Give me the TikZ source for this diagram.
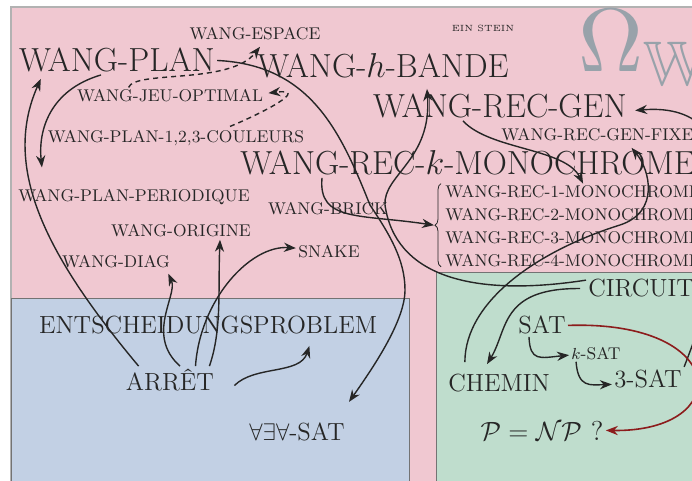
\documentclass[tikz,border=0pt]{standalone}
\usepackage{amssymb}
\usepackage{graphicx}
\usetikzlibrary{positioning, arrows.meta, decorations.pathreplacing}

\definecolor{pinkzone}{RGB}{240,200,209}
\definecolor{bluezone}{RGB}{194,208,228}
\definecolor{greenzone}{RGB}{191,221,205}
\definecolor{ink}{RGB}{38,38,38}
\definecolor{omegagray}{RGB}{152,162,170}
\definecolor{darkred}{RGB}{140,28,28}

\begin{document}
\begin{tikzpicture}[
        x=0.5pt, y=-0.5pt,
        word/.style={inner sep=1pt, anchor=base, text=ink},
        bigword/.style={word, font=\fontsize{16.7}{19}\selectfont},
        midword/.style={word, font=\fontsize{12.4}{14}\selectfont},
        smallword/.style={word, font=\fontsize{8.5}{10}\selectfont},
        tinyword/.style={word, font=\fontsize{4.5}{5.5}\selectfont},
        monorow/.style={smallword, text height=6pt, text depth=1pt},
        arrow/.style={-{Stealth[length=6pt, width=4.6pt]}, line width=0.7pt, draw=ink},
        dasharrow/.style={arrow, dash pattern=on 2.5pt off 2pt},
        redarrow/.style={arrow, draw=darkred, line width=0.8pt},
        zone/.style={draw=black!55, line width=0.5pt}
    ]
    \useasboundingbox (0,0) rectangle (692,481);
    \clip (0,0) rectangle (692,481);
    \filldraw[zone, fill=pinkzone, draw=black!30, line width=0.8pt] (11,7) rectangle (720,500);
    \filldraw[zone, fill=bluezone] (11,299) rectangle (409,500);
    \filldraw[zone, fill=greenzone] (436,273) rectangle (720,500);

    \node[smallword] (wespace) at (255,40) {WANG-ESPACE};
    \node[bigword] (wplan) at (117,72) {WANG-PLAN};
    \node[bigword] (wband) at (383,78) {WANG-$h$-BANDE};
    \node[tinyword] (stein) at (483,32) {EIN STEIN};
    \node[anchor=base west, inner sep=0pt, text=omegagray] (omega) at (578,72) {\scalebox{4.5}{$\Omega_{\mathbb{W}}$}};
    \node[smallword] (wjeu) at (170,102) {WANG-JEU-OPTIMAL};
    \node[bigword] (wrecgen) at (500,118) {WANG-REC-GEN};
    \node[smallword] (wcoul) at (176,143) {WANG-PLAN-1,2,3-COULEURS};
    \node[smallword, anchor=base west] (wfixe) at (499,141) {WANG-REC-GEN-FIXE};
    \node[bigword, anchor=base west] (wreck) at (238,175) {WANG-REC-$k$-MONOCHROME};
    \node[smallword] (wper) at (134,202) {WANG-PLAN-PERIODIQUE};
    \node[smallword] (wbrick) at (328,215) {WANG-BRICK};
    \node[monorow, anchor=base west] (mono1) at (443,198) {WANG-REC-1-MONOCHROME};
    \node[monorow, below=2pt of mono1] (mono2) {WANG-REC-2-MONOCHROME};
    \node[monorow, below=2pt of mono2] (mono3) {WANG-REC-3-MONOCHROME};
    \node[monorow, below=2pt of mono3] (mono4) {WANG-REC-4-MONOCHROME};
    \node[smallword] (worig) at (181,237) {WANG-ORIGINE};
    \node[smallword] (snake) at (329,257) {SNAKE};
    \node[smallword] (wdiag) at (116,268) {WANG-DIAG};
    \node[midword] (entsch) at (208,334) {ENTSCHEIDUNGSPROBLEM};
    \node[midword] (arret) at (170,390) {ARRÊT};
    \node[midword] (aea) at (297,440) {$\forall\exists\forall$-SAT};
    \node[midword, anchor=base west] (circuit) at (586,297) {CIRCUIT};
    \node[midword] (sat) at (542,334) {SAT};
    \node[smallword] (ksat) at (596,359) {$k$-SAT};
    \node[midword] (chemin) at (499,392) {CHEMIN};
    \node[midword] (tsat) at (648,387) {3-SAT};
    \node[midword] (pnp) at (542,440) {\scalebox{1.1}{$\mathcal{P} = \mathcal{NP}$ ?}};

    \draw[line width=0.4pt, draw=ink, decorate, decoration={brace, amplitude=3pt}]
        ([shift={(-1pt,2pt)}]mono4.south west) -- ([xshift=-1pt]mono1.north west)
        node[coordinate, midway, xshift=-3.5pt] (bracetip) {};

    \draw[arrow] ([xshift=7.5pt]arret.north west) .. controls (50,260) and (0,170) .. ([xshift=12pt, yshift=-2pt]wplan.south west);
    \draw[arrow] ([xshift=-8pt]wplan.south) .. controls (50,90) and (38,130) .. ([xshift=13pt, yshift=10pt]wper.north west);
    \draw[arrow] (wplan.east) .. controls (310,65) and (340,130) .. (370,205) .. controls (390,235) and (405,260) .. (405,290) .. controls (405,320) and (375,365) .. ([xshift=26pt, yshift=9pt]aea.north);
    \draw[dasharrow] ([xshift=27pt]wjeu.north west) .. controls (135,70) and (230,85) .. ([xshift=2.5pt, yshift=-2pt]wespace.south);
    \draw[dasharrow] ([xshift=27pt, yshift=1pt]wcoul.north) .. controls (265,112) and (310,88) .. ([xshift=1.5pt, yshift=1.5pt]wjeu.east);
    \draw[arrow] ([xshift=-18.5pt]wrecgen.south) .. controls (490,150) and (565,148) .. ([xshift=5pt]mono1.north);
    \draw[arrow] ([xshift=42pt]wreck.south west) .. controls (318,222) and (360,214) .. (bracetip);
    \draw[arrow] ([yshift=-1.5pt]circuit.north west) .. controls (470,298) and (395,275) .. (385,205) .. controls (383,175) and (432,160) .. ([xshift=22pt, yshift=-4pt]wband.south);
    \draw[arrow] ([xshift=-3pt]circuit.west) .. controls (500,288) and (508,330) .. ([xshift=-6pt, yshift=4pt]chemin.north);
    \draw[arrow] ([xshift=9.5pt, yshift=5pt]chemin.north west) .. controls (465,300) and (540,250) .. (620,225) .. controls (660,212) and (650,170) .. ([xshift=17pt, yshift=-2pt]wfixe.south);
    \draw[arrow] ([xshift=-6.5pt]sat.south) .. controls (530,362) and (540,358) .. ([yshift=-1pt]ksat.west);
    \draw[arrow] ([xshift=3.5pt]ksat.south west) .. controls (578,388) and (590,385) .. ([yshift=-3pt]tsat.west);
    \draw[arrow] (tsat.north east) .. controls (730,250) and (760,100) .. ([xshift=3pt, yshift=-2pt]wrecgen.east);
    \draw[redarrow] (sat.east) .. controls (730,320) and (735,432) .. (pnp.east);
    \draw[arrow] ([xshift=5pt]arret.north) .. controls (145,335) and (178,295) .. ([xshift=-2pt, yshift=-1.5pt]wdiag.south east);
    \draw[arrow] ([xshift=12.75pt]arret.north) .. controls (200,300) and (250,245) .. ([yshift=1.5pt]snake.west);
    \draw[arrow] ([xshift=-3.5pt]arret.north east) .. controls (222,330) and (218,290) .. ([xshift=19.5pt]worig.south);
    \draw[arrow] ([xshift=9pt, yshift=-3pt]arret.east) .. controls (255,365) and (300,375) .. ([xshift=-35pt, yshift=-4.5pt]entsch.south east);
\end{tikzpicture}
\end{document}
